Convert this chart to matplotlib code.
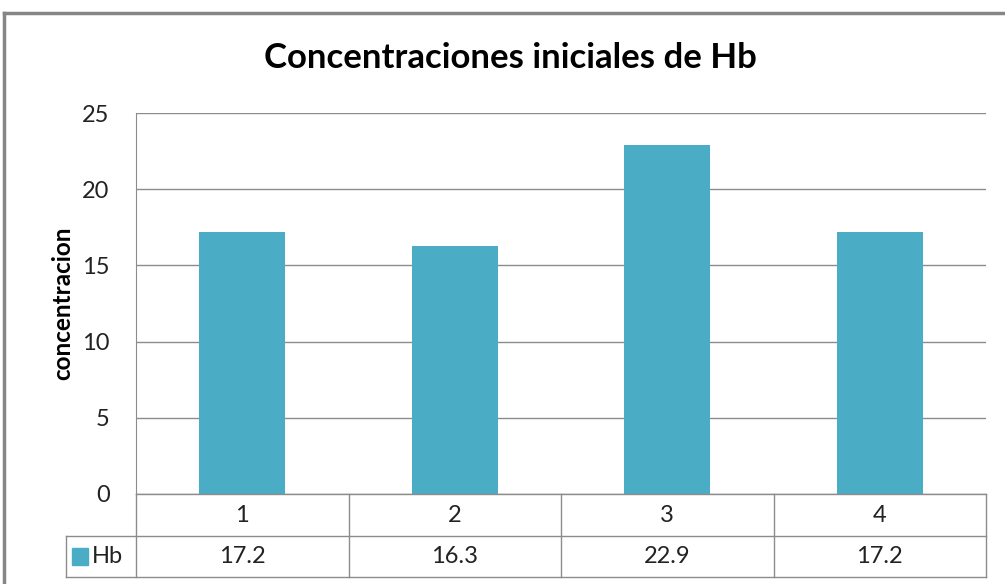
import matplotlib.pyplot as plt
import matplotlib.transforms as mtransforms
from matplotlib.lines import Line2D
from matplotlib.patches import Rectangle

categories = ["1", "2", "3", "4"]
hb = [17.2, 16.3, 22.9, 17.2]
series_name = "Hb"

plt.rcParams['font.family'] = ['Lato', 'DejaVu Sans']
bar_color = "#4BACC6"
grid_color = "#8c8c8c"
txt_color = "#222222"

fig = plt.figure(figsize=(10.05, 5.84), dpi=100)
ax = fig.add_axes([136/1005, 1-494/584, 850/1005, 381/584])

x = list(range(len(categories)))
ax.bar(x, hb, width=0.405, color=bar_color, zorder=2)
ax.set_xlim(-0.5, len(categories)-0.5)
ax.set_ylim(0, 25)
ax.set_yticks([0, 5, 10, 15, 20, 25])
ax.yaxis.grid(True, color=grid_color, linewidth=1, zorder=0)
ax.set_xticks([])
ax.tick_params(axis='y', length=0, labelsize=17, pad=19, colors=txt_color)
for s in ["top", "right", "bottom"]:
    ax.spines[s].set_visible(False)
ax.spines["left"].set_color(grid_color)
ax.set_ylabel("concentracion", fontsize=17.5, fontweight="bold", labelpad=6)
fig.text(510/1005, 1-58/584, "Concentraciones iniciales de Hb", fontsize=25,
         fontweight="bold", ha="center", va="center")

# data table under the plot
tr = mtransforms.blended_transform_factory(ax.transData, ax.transAxes)
row1 = -42/381
row2 = -83/381
left_hb = -0.5 - 70/212.5
right = len(categories) - 0.5
kw = dict(color=grid_color, linewidth=1, transform=tr, clip_on=False)
ax.add_line(Line2D([-0.5, right], [0, 0], **kw))
ax.add_line(Line2D([left_hb, right], [row1, row1], **kw))
ax.add_line(Line2D([left_hb, right], [row2, row2], **kw))
ax.add_line(Line2D([left_hb, left_hb], [row1, row2], **kw))
for i in range(len(categories) + 1):
    ax.add_line(Line2D([i-0.5, i-0.5], [0, row2], **kw))
for i, c in enumerate(categories):
    ax.text(i, row1/2, c, transform=tr, ha="center", va="center", fontsize=17, color=txt_color)
    ax.text(i, (row1+row2)/2, str(hb[i]), transform=tr, ha="center", va="center",
            fontsize=17, color=txt_color)
ax.add_patch(Rectangle((left_hb + 0.03, (row1+row2)/2 - 0.022), 0.075, 0.044,
                       color=bar_color, transform=tr, clip_on=False))
ax.text(left_hb + 0.12, (row1+row2)/2, series_name, transform=tr, ha="left", va="center",
        fontsize=17, color=txt_color)

# chart frame
fig.add_artist(Line2D([4/1005, 1], [1-13/584, 1-13/584], color="#868686", linewidth=2.5,
                      transform=fig.transFigure))
fig.add_artist(Line2D([4/1005, 4/1005], [0, 1-13/584], color="#868686", linewidth=2.5,
                      transform=fig.transFigure))

fig.savefig("out.png", dpi=100)
